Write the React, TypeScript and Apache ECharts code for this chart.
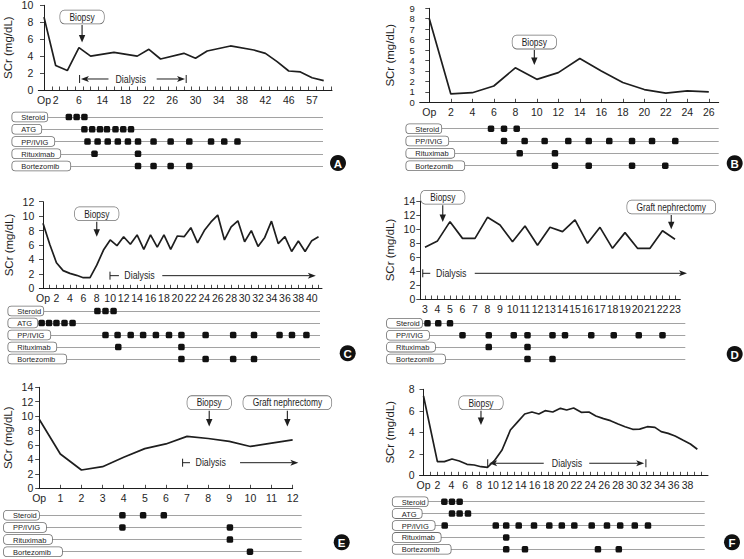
import React, { useEffect, useRef } from 'react';
import * as echarts from 'echarts';

const FONT = "'Liberation Sans', Arial, sans-serif";
const INK = '#1e1e1e';

// ---------- Panel A ----------
const aDays = [0, 1.5, 3, 4.5, 6, 9, 12, 13.5, 15, 18, 19.5, 21, 24, 27, 28.5, 30, 31.5, 33, 34.5, 36];
const aSCr = [8.6, 2.9, 2.3, 5.0, 4.0, 4.45, 4.0, 4.8, 3.66, 4.33, 3.74, 4.6, 5.2, 4.72, 4.33, 3.35, 2.24, 2.13, 1.45, 1.1];
const aTickPos = [0, 1.5, 4.5, 7.5, 10.5, 13.5, 16.5, 19.5, 22.5, 25.5, 28.5, 31.5, 34.5];
const aTickLabels = ['Op', '2', '6', '14', '18', '22', '26', '30', '34', '38', '42', '46', '57'];
const aRows = ['Steroid', 'ATG', 'PP/IVIG', 'Rituximab', 'Bortezomib'];
const aSteroid = [3.2, 4.2, 5.2];
const aATG = [5.2, 6.2, 7.2, 8.1, 9.2, 10.2, 11.2];
const aPP = [5.6, 6.9, 8.2, 9.5, 10.8, 12.1, 14.1, 16.3, 18.7, 21.5, 23.2, 24.9];
const aRitux = [6.5, 12.1];
const aBortez = [12.1, 14.1, 16.3, 18.7];

// ---------- Panel B ----------
const bDays = [0, 2, 4, 6, 8, 10, 12, 14, 16, 18, 20, 22, 24, 26];
const bSCr = [8.0, 0.8, 0.92, 1.56, 3.3, 2.2, 2.84, 4.2, 3.0, 1.9, 1.22, 0.88, 1.1, 1.0];
const bTickPos = [0, 2, 4, 6, 8, 10, 12, 14, 16, 18, 20, 22, 24, 26];
const bTickLabels = ['Op', '2', '4', '6', '8', '10', '12', '14', '16', '18', '20', '22', '24', '26'];
const bRows = ['Steroid', 'PP/IVIG', 'Rituximab', 'Bortezomib'];
const bSteroid = [5.74, 6.95, 8.13];
const bPP = [6.95, 8.87, 10.73, 12.93, 14.83, 16.74, 18.86, 20.72, 22.88];
const bRitux = [8.41, 11.69];
const bBortez = [11.69, 14.83, 18.86, 21.95];

// ---------- Panel C ----------
const cDays = [0, 1, 2, 3, 4, 5, 6, 7, 8, 9, 10, 11, 12, 13, 14, 15, 16, 17, 18, 19, 20, 21, 22, 23, 24, 25, 26, 27, 28, 29, 30, 31, 32, 33, 34, 35, 36, 37, 38, 39, 40, 41];
const cSCr = [9.0, 6.1, 3.55, 2.45, 2.07, 1.8, 1.47, 1.47, 3.2, 5.3, 6.7, 5.9, 7.15, 6.1, 7.4, 5.4, 7.4, 5.7, 7.4, 5.4, 7.25, 7.15, 8.4, 6.3, 8.0, 9.2, 10.15, 6.7, 8.5, 9.35, 6.45, 8.0, 5.8, 7.05, 9.3, 6.2, 7.15, 5.1, 6.55, 5.1, 6.6, 7.15];
const cTickPos = [0, 2, 4, 6, 8, 10, 12, 14, 16, 18, 20, 22, 24, 26, 28, 30, 32, 34, 36, 38, 40];
const cTickLabels = ['Op', '2', '4', '6', '8', '10', '12', '14', '16', '18', '20', '22', '24', '26', '28', '30', '32', '34', '36', '38', '40'];
const cRows = ['Steroid', 'ATG', 'PP/IVIG', 'Rituximab', 'Bortezomib'];
const cSteroid = [8.1, 9.3, 10.5];
const cATG = [-0.2, 0.9, 2.0, 3.2, 4.4];
const cPP = [9.3, 11.1, 13.05, 14.9, 16.8, 18.75, 20.6, 24.2, 28.3, 31.4, 35.2, 37.05, 39.2];
const cRitux = [11.2, 20.6];
const cBortez = [20.6, 24.2, 28.3, 31.4];

// ---------- Panel D ----------
const dDays = [3, 4, 5, 6, 7, 8, 9, 10, 11, 12, 13, 14, 15, 16, 17, 18, 19, 20, 21, 22, 23];
const dSCr = [7.4, 8.3, 11.05, 8.66, 8.66, 11.67, 10.57, 8.19, 10.43, 7.67, 10.24, 9.62, 11.29, 7.95, 10.24, 7.24, 9.48, 7.24, 7.24, 9.76, 8.53];
const dTickPos = [3, 4, 5, 6, 7, 8, 9, 10, 11, 12, 13, 14, 15, 16, 17, 18, 19, 20, 21, 22, 23];
const dTickLabels = ['3', '4', '5', '6', '7', '8', '9', '10', '11', '12', '13', '14', '15', '16', '17', '18', '19', '20', '21', '22', '23'];
const dRows = ['Steroid', 'PP/IVIG', 'Rituximab', 'Bortezomib'];
const dSteroid = [3.2, 4.06, 5.0];
const dPP = [6.0, 8.1, 10.1, 11.2, 13.2, 14.2, 16.3, 18.1, 20.1, 22.0];
const dRitux = [8.1, 11.2];
const dBortez = [11.2, 13.2];

// ---------- Panel E ----------
const eDays = [0, 1, 2, 3, 4, 5, 6, 7, 8, 9, 10, 11, 12];
const eSCr = [9.57, 4.76, 2.54, 3.0, 4.3, 5.5, 6.15, 7.2, 6.9, 6.5, 5.8, 6.25, 6.7];
const eTickPos = [0, 1, 2, 3, 4, 5, 6, 7, 8, 9, 10, 11, 12];
const eTickLabels = ['Op', '1', '2', '3', '4', '5', '6', '7', '8', '9', '10', '11', '12'];
const eRows = ['Steroid', 'PP/IVIG', 'Rituximab', 'Bortezomib'];
const eSteroid = [3.94, 4.92, 5.9];
const ePP = [3.94, 9.03];
const eRitux = [9.03];
const eBortez = [9.98];

// ---------- Panel F ----------
const fDays = [0, 2, 3, 4.1, 5.15, 6.26, 7.3, 8.27, 9.2, 10.2, 11.3, 12.5, 13.45, 14.56, 15.6, 16.6, 17.5, 18.6, 19.7, 20.6, 21.6, 22.7, 23.8, 24.8, 25.9, 26.9, 28.0, 29.0, 30.1, 31.1, 32.2, 33.3, 34.2, 35.2, 36.2, 37.3, 38.4, 39.4];
const fSCr = [7.38, 1.27, 1.27, 1.52, 1.33, 1.02, 0.96, 0.8, 0.74, 1.36, 2.35, 4.21, 4.9, 5.7, 5.89, 5.7, 6.01, 5.89, 6.23, 6.07, 6.26, 5.86, 5.89, 5.52, 5.27, 5.08, 4.77, 4.52, 4.28, 4.3, 4.52, 4.46, 4.06, 3.9, 3.66, 3.28, 2.91, 2.42];
const fTickPos = [0, 2, 4, 6, 8, 10, 12, 14, 16, 18, 20, 22, 24, 26, 28, 30, 32, 34, 36, 38];
const fTickLabels = ['Op', '2', '4', '6', '8', '10', '12', '14', '16', '18', '20', '22', '24', '26', '28', '30', '32', '34', '36', '38'];
const fRows = ['Steroid', 'ATG', 'PP/IVIG', 'Rituximab', 'Bortezomib'];
const fSteroid = [3.0, 4.1, 5.2];
const fATG = [4.1, 5.2, 6.4];
const fPP = [3.05, 10.4, 11.9, 13.7, 15.9, 18.1, 19.9, 21.7, 24.2, 26.4, 28.3, 30.4, 32.3];
const fRitux = [11.9];
const fBortez = [11.9, 14.6, 25.1, 28.1];

const range = (a: number, b: number, s: number) => {
  const r: number[] = [];
  for (let v = a; v <= b + 1e-9; v += s) r.push(+v.toFixed(4));
  return r;
};

type Note =
  | { kind: 'callout'; x: number; y1: number; y2: number; text: string }
  | { kind: 'span'; y: number; textX: number; bars: number[]; segs: [number, number, string][] };

const panels = [
  {
    letter: 'A', days: aDays, scr: aSCr, tickPos: aTickPos, tickLabels: aTickLabels, ticks: range(0, 37, 1),
    yMax: 10, yStep: 2, yFont: 10.5, rows: aRows, doses: [aSteroid, aATG, aPP, aRitux, aBortez],
    notes: [
      { kind: 'callout', x: 4.9, y1: 7.67, y2: 5.6, text: 'Biopsy' },
      { kind: 'span', y: 1.3, textX: 11.15, bars: [4.58, 18.3], segs: [[4.75, 8.3, 'start'], [14.5, 18.15, 'end']] },
    ] as Note[],
    L: 38.3, R: 332, T: 5.3, B: 90, x0px: 44, x0v: 0, unit: 7.77,
    tl: { L: 12.3, R: 323, T: 117, B: 166 }, badge: [338, 163],
  },
  {
    letter: 'B', days: bDays, scr: bSCr, tickPos: bTickPos, tickLabels: bTickLabels, ticks: range(0, 26, 2),
    yMax: 9, yStep: 1, yFont: 9.5, rows: bRows, doses: [bSteroid, bPP, bRitux, bBortez],
    notes: [{ kind: 'callout', x: 9.77, y1: 5.0, y2: 3.57, text: 'Biopsy' }] as Note[],
    L: 419.7, R: 718.7, T: 8.3, B: 102.3, x0px: 429.3, x0v: 0, unit: 10.75,
    tl: { L: 406.3, R: 718.7, T: 128.7, B: 165.7 }, badge: [734.7, 163.3],
  },
  {
    letter: 'C', days: cDays, scr: cSCr, tickPos: cTickPos, tickLabels: cTickLabels, ticks: range(0, 41, 1),
    yMax: 12, yStep: 2, yFont: 10.5, rows: cRows, doses: [cSteroid, cATG, cPP, cRitux, cBortez],
    notes: [
      { kind: 'callout', x: 8.0, y1: 9.22, y2: 7.15, text: 'Biopsy' },
      { kind: 'span', y: 1.75, textX: 14.36, bars: [9.97], segs: [[9.97, 11.3, 'none'], [17.75, 40.6, 'end']] },
    ] as Note[],
    L: 39.3, R: 322, T: 201.7, B: 288.3, x0px: 43, x0v: 0, unit: 6.72,
    tl: { L: 8.3, R: 320, T: 311, B: 359 }, badge: [347.7, 353.3],
  },
  {
    letter: 'D', days: dDays, scr: dSCr, tickPos: dTickPos, tickLabels: dTickLabels, ticks: range(3, 23, 0.5),
    yMax: 14, yStep: 2, yFont: 10.5, rows: dRows, doses: [dSteroid, dPP, dRitux, dBortez],
    notes: [
      { kind: 'callout', x: 4.42, y1: 13.4, y2: 11.0, text: 'Biopsy' },
      { kind: 'callout', x: 22.7, y1: 12.0, y2: 9.95, text: 'Graft nephrectomy' },
      { kind: 'span', y: 3.67, textX: 5.1, bars: [2.82], segs: [[2.82, 3.42, 'none'], [6.98, 23.96, 'end']] },
    ] as Note[],
    L: 420.3, R: 680.3, T: 201, B: 299, x0px: 425, x0v: 3, unit: 12.5,
    tl: { L: 387, R: 685.3, T: 323.3, B: 359 }, badge: [734.7, 354],
  },
  {
    letter: 'E', days: eDays, scr: eSCr, tickPos: eTickPos, tickLabels: eTickLabels, ticks: range(1, 12, 1),
    yMax: 14, yStep: 2, yFont: 10.5, rows: eRows, doses: [eSteroid, ePP, eRitux, eBortez],
    notes: [
      { kind: 'callout', x: 8.05, y1: 10.76, y2: 8.55, text: 'Biopsy' },
      { kind: 'callout', x: 11.75, y1: 10.76, y2: 8.55, text: 'Graft nephrectomy' },
      { kind: 'span', y: 3.55, textX: 8.12, bars: [6.79], segs: [[6.79, 7.14, 'none'], [9.51, 12.27, 'end']] },
    ] as Note[],
    L: 38.3, R: 292.7, T: 387.3, B: 488.3, x0px: 39.2, x0v: 0, unit: 21.12,
    tl: { L: 4, R: 301.7, T: 515.3, B: 551.7 }, badge: [341.7, 542.3],
  },
  {
    letter: 'F', days: fDays, scr: fSCr, tickPos: fTickPos, tickLabels: fTickLabels, ticks: range(0, 40, 1),
    yMax: 8, yStep: 2, yFont: 10.5, rows: fRows, doses: [fSteroid, fATG, fPP, fRitux, fBortez],
    notes: [
      { kind: 'callout', x: 8.27, y1: 6.0, y2: 4.68, text: 'Biopsy' },
      { kind: 'span', y: 1.12, textX: 20.65, bars: [9.24, 32.0], segs: [[9.45, 17.3, 'start'], [23.85, 31.75, 'end']] },
    ] as Note[],
    L: 419.7, R: 708, T: 389.3, B: 475.3, x0px: 423.5, x0v: 0, unit: 6.95,
    tl: { L: 392.7, R: 704.7, T: 501.7, B: 549.3 }, badge: [732, 542.3],
  },
];

const BOX_W: Record<string, number> = { Steroid: 36, ATG: 30, 'PP/IVIG': 43, Rituximab: 49, Bortezomib: 59 };
const BOX_KEY: Record<string, string> = { Steroid: 's0', ATG: 's1', 'PP/IVIG': 's2', Rituximab: 's3', Bortezomib: 's4' };
const PAD_L = 9;
const SQUEEZE = 0.84;

const noteRenderer = (notes: Note[]) => (params: any, api: any) => {
  const n = notes[params.dataIndex];
  const kids: any[] = [];
  const font = `10px ${FONT}`;
  if (n.kind === 'callout') {
    const [x, ya] = api.coord([n.x, n.y1]);
    const yb = api.coord([n.x, n.y2])[1];
    kids.push({ type: 'line', shape: { x1: x, y1: ya, x2: x, y2: yb - 5 }, style: { stroke: INK, lineWidth: 1.1 } });
    kids.push({ type: 'polygon', shape: { points: [[x - 3.2, yb - 7.5], [x + 3.2, yb - 7.5], [x, yb]] }, style: { fill: INK } });
    kids.push({
      type: 'text', x, y: ya - 1.5, scaleX: SQUEEZE,
      style: {
        text: n.text, fill: INK, font, align: 'center', verticalAlign: 'bottom',
        backgroundColor: '#fff', borderColor: '#707070', borderWidth: 0.8, borderRadius: 5, padding: [2, 11, 1, 11],
      },
    });
  } else {
    const [tx, y] = api.coord([n.textX, n.y]);
    n.segs.forEach(([a, b, head]) => {
      const xa = api.coord([a, n.y])[0];
      const xb = api.coord([b, n.y])[0];
      const s = head === 'start' ? xa + 6 : xa;
      const e = head === 'end' ? xb - 6 : xb;
      kids.push({ type: 'line', shape: { x1: s, y1: y, x2: e, y2: y }, style: { stroke: INK, lineWidth: 1 } });
      if (head === 'end') kids.push({ type: 'polygon', shape: { points: [[xb, y], [xb - 8, y - 3], [xb - 6, y], [xb - 8, y + 3]] }, style: { fill: INK } });
      if (head === 'start') kids.push({ type: 'polygon', shape: { points: [[xa, y], [xa + 8, y - 3], [xa + 6, y], [xa + 8, y + 3]] }, style: { fill: INK } });
    });
    n.bars.forEach((bx) => {
      const px = api.coord([bx, n.y])[0];
      kids.push({ type: 'line', shape: { x1: px, y1: y - 4, x2: px, y2: y + 4 }, style: { stroke: INK, lineWidth: 1 } });
    });
    kids.push({ type: 'text', x: tx, y, scaleX: SQUEEZE, style: { text: 'Dialysis', fill: INK, font: `10.5px ${FONT}`, align: 'center', verticalAlign: 'middle' } });
  }
  return { type: 'group', children: kids };
};

function buildOption() {
  const grid: any[] = [];
  const xAxis: any[] = [];
  const yAxis: any[] = [];
  const series: any[] = [];
  const graphic: any[] = [];
  const rich: any = {};
  Object.keys(BOX_W).forEach((k) => {
    rich[BOX_KEY[k]] = { width: BOX_W[k] - PAD_L - 1, fontSize: 7.5, lineHeight: 8, fontFamily: FONT, color: INK };
  });

  panels.forEach((p) => {
    const toVal = (px: number) => p.x0v + (px - p.x0px) / p.unit;
    const gi = grid.length;
    grid.push({ left: p.L, top: p.T, width: p.R - p.L, height: p.B - p.T, containLabel: false, outerBoundsMode: 'none' });
    xAxis.push({
      gridIndex: gi, type: 'value', min: toVal(p.L), max: toVal(p.R),
      axisLine: { show: true, onZero: false, lineStyle: { color: INK, width: 1 } },
      axisTick: { show: true, inside: true, length: 3.5, customValues: p.ticks, lineStyle: { color: INK, width: 0.8 } },
      axisLabel: {
        show: true, customValues: p.tickPos, margin: 4, fontSize: 10.5, fontFamily: FONT, color: INK,
        showMinLabel: true, showMaxLabel: true, hideOverlap: false,
        formatter: (v: number) => {
          const i = p.tickPos.findIndex((t) => Math.abs(t - v) < 1e-6);
          return i >= 0 ? p.tickLabels[i] : '';
        },
      },
      splitLine: { show: false },
    });
    yAxis.push({
      gridIndex: gi, type: 'value', min: 0, max: p.yMax, interval: p.yStep,
      name: 'SCr (mg/dL)', nameLocation: 'middle', nameGap: 24, nameRotate: 90,
      nameTextStyle: { fontSize: 11.5, fontFamily: FONT, color: INK },
      axisLine: { show: true, lineStyle: { color: INK, width: 1 } },
      axisTick: { show: true, inside: false, length: 4, lineStyle: { color: INK, width: 0.8 } },
      axisLabel: { fontSize: p.yFont, lineHeight: p.yFont - 0.5, fontFamily: FONT, color: INK, margin: 5, showMinLabel: true, showMaxLabel: true },
      splitLine: { show: false },
    });
    series.push({
      type: 'line', xAxisIndex: gi, yAxisIndex: gi, symbol: 'none', silent: true, z: 3,
      data: p.days.map((d, k) => [d, p.scr[k]]),
      lineStyle: { color: INK, width: 1.7 },
    });
    series.push({
      type: 'custom', xAxisIndex: gi, yAxisIndex: gi, silent: true, z: 4,
      data: p.notes.map((n) => (n.kind === 'callout' ? [n.x, n.y2] : [n.textX, n.y])),
      renderItem: noteRenderer(p.notes),
    });

    const ti = grid.length;
    grid.push({ left: p.tl.L, top: p.tl.T, width: p.tl.R - p.tl.L, height: p.tl.B - p.tl.T, containLabel: false, outerBoundsMode: 'none' });
    xAxis.push({ gridIndex: ti, type: 'value', min: toVal(p.tl.L), max: toVal(p.tl.R), show: false, splitLine: { show: false } });
    yAxis.push({
      gridIndex: ti, type: 'category', data: p.rows, inverse: true, boundaryGap: false,
      axisLine: { show: false }, axisTick: { show: false },
      splitLine: { show: true, lineStyle: { color: '#8a8a8a', width: 0.8 } },
      axisLabel: {
        inside: true, margin: 0, interval: 0,
        formatter: (v: string) => `{${BOX_KEY[v]}|${v}}`,
        rich,
        fontSize: 7.5, lineHeight: 8, fontFamily: FONT, color: INK,
        backgroundColor: '#fff', borderColor: '#6e6e6e', borderWidth: 0.8, borderRadius: 3,
        padding: [1, 0, 0, PAD_L],
      },
    });
    const dots: any[] = [];
    p.doses.forEach((arr, r) => arr.forEach((x) => dots.push([x, p.rows[r]])));
    series.push({
      type: 'scatter', xAxisIndex: ti, yAxisIndex: ti, silent: true, z: 3,
      symbol: 'roundRect', symbolSize: 6.5, itemStyle: { color: '#111', opacity: 1 }, data: dots,
    });

    graphic.push({ type: 'circle', shape: { cx: p.badge[0], cy: p.badge[1], r: 8 }, style: { fill: '#111' } });
    graphic.push({
      type: 'text', x: p.badge[0], y: p.badge[1] + 0.5,
      style: { text: p.letter, fill: '#fff', font: `bold 11.5px 'Liberation Sans', Arial, sans-serif`, align: 'center', verticalAlign: 'middle' },
    });
  });

  return { animation: false, backgroundColor: '#fff', grid, xAxis, yAxis, series, graphic };
}

export default function App() {
  const ref = useRef<HTMLDivElement>(null);
  useEffect(() => {
    if (!ref.current) return;
    const chart = echarts.init(ref.current, undefined, { renderer: 'svg' });
    chart.setOption(buildOption() as any);
    return () => chart.dispose();
  }, []);
  return <div ref={ref} style={{ position: 'fixed', left: 0, top: 0, width: 744, height: 559, background: '#fff' }} />;
}
